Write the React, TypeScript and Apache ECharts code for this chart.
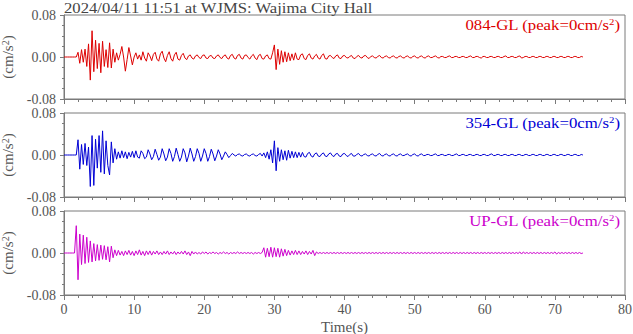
import React, { useEffect, useRef } from "react";
import * as echarts from "echarts";

const titleText = "2024/04/11 11:51 at WJMS: Wajima City Hall";
const channelNames = ["084-GL", "354-GL", "UP-GL"];
const peakValues = [0, 0, 0];
const xAxisName = "Time(s)";
const sampleStep = 0.25; // seconds between samples
const xMin = 0;
const xMax = 80;
const xInterval = 10;
const yMin = -0.08;
const yMax = 0.08;
const yInterval = 0.08;

// accelerations in 0.001 cm/s^2, one value every 0.25 s from 0 s to 74 s
const ewMilli = [
  0, 0, 0, 0, 0, 0, 0, 0,
  9, -12, 14, -10, 15, -18, 25, -44,
  50, -28, 32, -22, 26, -30, 30, -18,
  14, -20, 27, -21, 15, -10, 8, -6,
  5, 20, 0, -27, -5, 18, 2, -15,
  0, 8, -4, 4, -6, 10, -2, -8,
  8, 2, -7, 5, 9, -4, -8, 6,
  11, -2, -9, 3, 10, -3, -8, 4,
  9, -4, -6, 3, 7, -2, -5, 2,
  4, -2, -4, 2, 4, -1, -3, 3,
  4, -2, -3, 2, 3, -2, -3, 2,
  4, -1, -3, 2, 4, -2, -4, 3,
  5, -2, -4, 3, 5, -2, -4, 3,
  4, -1, -4, 2, 5, -2, -5, 3,
  5, -3, -4, 2, 4, -3, -4, 8,
  23, -24, 15, -14, 12, -10, 10, -9,
  8, -7, 6, -6, 8, -4, -5, 4,
  6, -3, -5, 3, 6, -2, -4, 2,
  5, -2, -4, 3, 6, -3, -4, 2,
  3, -1, -3, 2, 4, -2, -3, 2,
  3, -1, -2, 1, 3, -2, -3, 1,
  3, -1, -2, 2, 3, -1, -3, 1,
  2, -1, -2, 1, 3, -1, -2, 1,
  2, -1, -2, 1, 2, -1, -2, 1,
  2, -1, -2, 1, 2, -1, -2, 1,
  2, -1, -2, 1, 2, -1, -2, 1,
  2, -1, -1, 1, 2, -1, -2, 1,
  1, -1, -1, 1, 2, -1, -1, 1,
  1, -1, -1, 1, 1, -1, -1, 1,
  2, -1, -1, 1, 1, -1, -2, 1,
  1, -1, -1, 1, 1, -1, -1, 1,
  1, -1, -1, 1, 2, -1, -1, 1,
  1, -1, -1, 1, 2, -2, -1, 1,
  1, -1, -1, 1, 1, -1, -1, 1,
  1, -1, -1, 1, 1, -1, -1, 1,
  1, -1, -1, 1, 1, -1, -1, 1,
  1, -1, -1, 1, 1, -1, -1, 1,
  0,
];

const nsMilli = [
  0, 0, 0, 0, 0, 0, 0, 0,
  29, -27, 20, -18, 22, -20, 15, -60,
  37, -58, 30, -25, 37, -33, 46, -36,
  27, -20, -38, 25, -15, 12, -8, 6,
  -6, 8, -5, 6, -7, 5, -4, 7,
  -5, 8, -4, -6, 8, 3, -7, -4,
  10, 2, -9, -3, 11, 1, -10, -4,
  12, 2, -11, -4, 12, 3, -12, -3,
  13, 1, -12, -4, 12, 4, -13, -2,
  13, 2, -12, -3, 12, 3, -12, -2,
  12, 3, -12, -3, 11, 2, -11, -2,
  10, 2, -9, -2, 6, 1, -5, -1,
  3, 0, -2, 1, 2, -1, -2, 1,
  2, -1, -2, 1, 2, -1, -2, 1,
  3, -2, 4, -5, 6, -8, 10, -15,
  27, -30, 14, -12, 10, -9, 8, -10,
  9, -6, 7, -5, 6, -5, 5, -4,
  5, -3, -4, 3, 5, -2, -4, 2,
  4, -2, -3, 2, 4, -2, -3, 2,
  4, -1, -3, 2, 3, -2, -3, 2,
  3, -1, -3, 1, 3, -2, -2, 1,
  3, -1, -2, 1, 2, -1, -2, 1,
  2, -1, -2, 1, 3, -1, -2, 1,
  2, -1, -2, 1, 2, -1, -2, 1,
  2, -1, -1, 1, 2, -1, -2, 1,
  2, -1, -2, 1, 2, -1, -1, 1,
  1, -1, -1, 1, 2, -1, -1, 1,
  1, -1, -1, 1, 1, -1, -1, 1,
  2, -1, -1, 1, 1, -1, -1, 1,
  1, -1, -1, 1, 1, -1, -1, 1,
  1, -1, -1, 1, 2, -1, -1, 1,
  1, -1, -1, 1, 1, -1, -1, 1,
  1, -1, -1, 1, 1, -1, -1, 1,
  1, -1, -1, 1, 1, -1, -1, 1,
  1, -1, -1, 1, 1, -1, -1, 1,
  1, -1, -1, 1, 1, -1, -1, 1,
  1, -1, -1, 1, 1, -1, -1, 1,
  0,
];

const udMilli = [
  0, 0, 0, 0, 0, 0, 0, 52,
  -51, 36, -22, 34, -20, 30, -18, 23,
  -17, 18, -15, 16, -14, 15, -12, 14,
  -13, 12, -17, 13, -9, 6, -5, 5,
  -4, 3, -5, 4, -3, 5, -4, 3,
  -5, 4, -3, 6, -4, 3, -5, 4,
  -3, 4, -4, 3, -2, 4, -3, 2,
  -3, 3, -2, 4, -3, 2, -2, 3,
  -3, 2, -2, 3, -2, 4, -3, 2,
  -5, 3, -2, 2, -2, 1, -2, 2,
  -1, 2, -2, 1, -1, 2, -1, 1,
  -2, 1, -1, 2, -1, 1, -2, 1,
  -1, 1, -1, 2, -1, 1, -1, 1,
  -1, 1, -1, 1, -2, 1, -1, 1,
  -1, 1, 10, -8, 9, -7, 11, -8,
  10, -7, 9, -8, 8, -6, 7, -5,
  5, -4, 4, -3, 5, -3, 4, -3,
  3, -2, 4, -3, 3, -2, 5, -5,
  2, -1, 1, -1, 1, -1, 1, -1,
  1, -1, 1, -1, 1, -1, 1, -1,
  1, -1, 1, -1, 1, -1, 1, -1,
  1, -1, 1, -1, 1, -1, 1, -1,
  1, -1, 1, -1, 1, -1, 1, -1,
  1, -1, 1, -1, 1, -1, 1, -1,
  1, -1, 1, -1, 1, -1, 1, -1,
  1, -1, 1, -1, 1, -1, 1, -1,
  1, -1, 1, -1, 1, -1, 1, -1,
  1, -1, 1, -1, 1, -1, 1, -1,
  1, -1, 1, -1, 1, -1, 1, -1,
  1, -1, 1, -1, 1, -1, 1, -1,
  1, -1, 1, -1, 1, -1, 1, -1,
  1, -1, 1, -1, 1, -1, 1, -1,
  1, -1, 1, -1, 2, -2, 2, -1,
  1, -1, 1, -1, 1, -1, 1, -1,
  1, -1, 1, -1, 1, -1, 1, -1,
  2, -2, 1, -1, 1, -1, 1, -1,
  1, -1, 1, -1, 1, -1, 1, -1,
  0,
];

const peakText = "peak=0cm/s";

const channels = [ewMilli, nsMilli, udMilli];
const colors = ["#dd0000", "#0000d4", "#cc00cc"];
const AX = "#7a7a7a";
const TXT = "#555555";
const FONT = "Liberation Serif";
const gridTops = [15, 113, 211];
const gridHeight = 84;
const gridLeft = 64;
const gridRight = 8;

export default function App() {
  const ref = useRef<HTMLDivElement>(null);
  useEffect(() => {
    if (!ref.current) return;
    const chart = echarts.init(ref.current, undefined, { renderer: "svg" });
    const nameRich = {
      a: { fontFamily: FONT, fontSize: 15, color: TXT, lineHeight: 15 },
      s: { fontFamily: FONT, fontSize: 10, color: TXT, verticalAlign: "top", lineHeight: 10 },
    };
    const grid = gridTops.map((top) => ({
      left: gridLeft,
      right: gridRight,
      top,
      height: gridHeight,
      show: true,
      borderColor: AX,
      borderWidth: 1,
      containLabel: false,
      outerBoundsMode: "none",
    }));
    const xAxis = gridTops.map((_, i) => ({
      type: "value",
      gridIndex: i,
      min: xMin,
      max: xMax,
      interval: xInterval,
      axisLine: { show: true, onZero: false, lineStyle: { color: AX, width: 1 } },
      axisTick: { show: true, length: 5, lineStyle: { color: AX } },
      minorTick: { show: true, splitNumber: 5, length: 3, lineStyle: { color: AX } },
      splitLine: { show: false },
      axisLabel: { show: i === 2, fontFamily: FONT, fontSize: 14, color: TXT, margin: 7 },
      name: i === 2 ? xAxisName : "",
      nameLocation: "middle",
      nameGap: 24,
      nameTextStyle: { fontFamily: FONT, fontSize: 15, color: TXT },
    }));
    const yAxis = gridTops.map((_, i) => ({
      type: "value",
      gridIndex: i,
      min: yMin,
      max: yMax,
      interval: yInterval,
      axisLine: { show: true, onZero: false, lineStyle: { color: AX, width: 1 } },
      axisTick: { show: true, length: 4, lineStyle: { color: AX } },
      minorTick: { show: true, splitNumber: 4, length: 2, lineStyle: { color: AX } },
      splitLine: { show: false },
      axisLabel: {
        fontFamily: FONT,
        fontSize: 14,
        color: TXT,
        margin: 8,
        formatter: (v: number) => (Math.abs(v) < 1e-9 ? "0.00" : v.toFixed(2)),
      },
      name: "{a|(cm/s}{s|2}{a|)}",
      nameLocation: "middle",
      nameRotate: 90,
      nameGap: 41,
      nameTextStyle: { rich: nameRich },
    }));
    const series = channels.map((arr, i) => ({
      type: "line",
      xAxisIndex: i,
      yAxisIndex: i,
      showSymbol: false,
      symbol: "none",
      silent: true,
      lineStyle: { width: 1, color: colors[i] },
      data: arr.map((v, k) => [k * sampleStep, v / 1000]),
    }));
    const labelRich = (c: string) => ({
      a: { fontFamily: FONT, fontSize: 14, fill: c, lineHeight: 16 },
      s: { fontFamily: FONT, fontSize: 9, fill: c, verticalAlign: "top", lineHeight: 9 },
    });
    const graphic: any[] = [
      {
        type: "text",
        x: 64,
        y: 8,
        scaleX: 1.19,
        style: {
          text: titleText,
          fontFamily: FONT,
          fontSize: 14,
          fill: "#444444",
          verticalAlign: "middle",
          align: "left",
        },
      },
      ...gridTops.map((top, i) => ({
        type: "text",
        x: 620,
        y: top + 10,
        scaleX: 1.2,
        style: {
          text: `{a|${channelNames[i]} (${peakText.replace("0", String(peakValues[i]))}}{s|2}{a|)}`,
          rich: labelRich(colors[i]),
          align: "right",
          verticalAlign: "middle",
          fill: colors[i],
        },
      })),
    ];
    chart.setOption({
      animation: false,
      grid,
      xAxis,
      yAxis,
      series,
      graphic,
    });
    return () => chart.dispose();
  }, []);
  return (
    <div
      ref={ref}
      style={{ position: "fixed", left: 0, top: 0, width: 633, height: 334, background: "#fff" }}
    />
  );
}
